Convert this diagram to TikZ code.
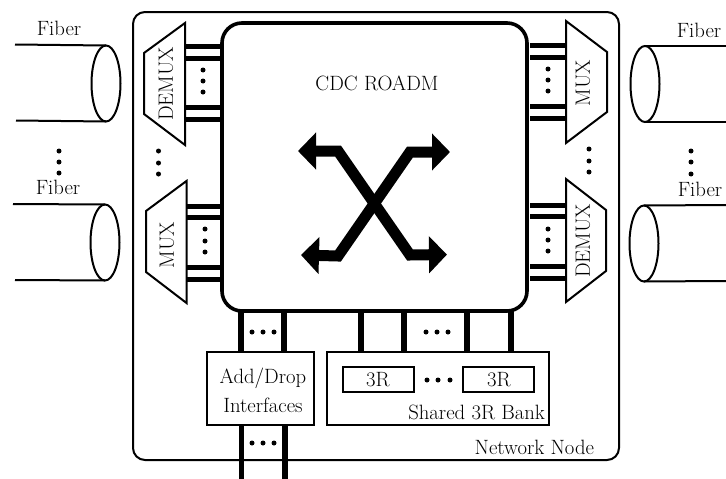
\documentclass[tikz,border=0pt]{standalone}
\usetikzlibrary{shapes.geometric,arrows.meta}
\tikzset{
  txt/.style={inner sep=0pt,outer sep=0pt,font=\fontsize{20.7}{24}\selectfont},
  rtxt/.style={txt,rotate=90},
  outerbox/.style={draw,line width=2pt,rounded corners=12pt,inner sep=0pt,outer sep=0pt},
  corebox/.style={draw,line width=3.6pt,rounded corners=20pt,inner sep=0pt,outer sep=0pt},
  plainbox/.style={draw,line width=2pt,inner sep=0pt,outer sep=0pt},
  fiberend/.style={draw,ellipse,line width=2pt,inner sep=0pt,outer sep=0pt,minimum width=29pt,minimum height=76pt},
  fiberline/.style={line width=2pt},
  muxshape/.style={draw,line width=2pt,line join=miter},
  bar/.style={line width=5pt},
  vbar/.style={line width=5.5pt},
  bigarrow/.style={line width=11pt,line join=miter},
  dotmark/.style={fill=black}
}
\newcommand{\vdotsat}[4]{\foreach \yy in {#2,#3,#4} \fill[dotmark] (#1,\yy) circle (2.5pt);}
\newcommand{\hdotsat}[4]{\foreach \xx in {#2,#3,#4} \fill[dotmark] (\xx,#1) circle (2.5pt);}
\begin{document}
\begin{tikzpicture}[x=1pt,y=-1pt]
\useasboundingbox (0,0) rectangle (726,479);
\node[outerbox,minimum width=486pt,minimum height=448pt] (node) at (376,236) {};
\node[corebox,minimum width=305pt,minimum height=288pt] (core) at (374.5,167) {};
\node[txt] (title) at (377,83) {CDC ROADM};
% fibers
\node[fiberend] (f1) at (106,83.5) {};
\node[fiberend] (f2) at (105,242.5) {};
\node[fiberend] (f3) at (645,84) {};
\node[fiberend] (f4) at (644,243.5) {};
\coordinate (f1a) at (15,44.5); \coordinate (f1b) at (16,120.5);
\coordinate (f2a) at (13,204); \coordinate (f2b) at (15,280);
\coordinate (f3a) at (726,46); \coordinate (f3b) at (726,122);
\coordinate (f4a) at (726,205); \coordinate (f4b) at (726,281);
\draw[fiberline] (f1a) -- (f1.north); \draw[fiberline] (f1b) -- (f1.south);
\draw[fiberline] (f2a) -- (f2.north); \draw[fiberline] (f2b) -- (f2.south);
\draw[fiberline] (f3a) -- (f3.north); \draw[fiberline] (f3b) -- (f3.south);
\draw[fiberline] (f4a) -- (f4.north); \draw[fiberline] (f4b) -- (f4.south);
\node[txt] (fl1) at (59,28) {Fiber};
\node[txt] (fl2) at (58,187) {Fiber};
\node[txt] (fl3) at (699,30) {Fiber};
\node[txt] (fl4) at (700,189) {Fiber};
% trapezoids
\draw[muxshape] (185,23) -- (144,53) -- (144,114) -- (185,145) -- cycle;
\draw[muxshape] (186.5,181) -- (146,211) -- (146,272) -- (186.5,303) -- cycle;
\draw[muxshape] (566,21) -- (607,52) -- (607,112) -- (566,143) -- cycle;
\draw[muxshape] (566,179) -- (606,210) -- (606,271) -- (566,302) -- cycle;
\node[rtxt] (t1) at (166,84) {DEMUX};
\node[rtxt] (t2) at (167,245) {MUX};
\node[rtxt] (t3) at (583,83) {MUX};
\node[rtxt] (t4) at (583,241) {DEMUX};
% horizontal bars
\coordinate (la) at (185,0); \coordinate (lb) at (187,0);
\coordinate (ra) at (530,0); \coordinate (rb) at (566,0);
\foreach \y in {46,58,107,119} \draw[bar] (la |- 0,\y) -- (core.west |- 0,\y);
\foreach \y in {206,217,267,279} \draw[bar] (lb |- 0,\y) -- (core.west |- 0,\y);
\foreach \y in {45,57,106,118,205,216,266,278} \draw[bar] (ra |- 0,\y) -- (rb |- 0,\y);
\vdotsat{203}{70}{81}{92}
\vdotsat{205}{229}{241}{252}
\vdotsat{548}{69}{80}{91}
\vdotsat{548}{229}{240}{251}
\vdotsat{158.5}{151}{163}{174}
\vdotsat{59}{151}{162}{173}
\vdotsat{589}{149}{161}{172}
\vdotsat{691}{151}{162}{174}
% bottom boxes
\node[plainbox,minimum width=107pt,minimum height=73pt] (ad) at (260.5,388.5) {};
\node[txt] (ad1) at (263,378) {Add/Drop};
\node[txt] (ad2) at (263,405) {Interfaces};
\node[plainbox,minimum width=222pt,minimum height=73pt] (bank) at (438,388.5) {};
\node[plainbox,minimum width=71pt,minimum height=25pt] (r1) at (378.5,379.5) {};
\node[plainbox,minimum width=71pt,minimum height=25pt] (r2) at (498.5,379.5) {};
\node[txt] (r1t) at (378,380) {3R};
\node[txt] (r2t) at (499,380) {3R};
\node[txt,anchor=east] (banklbl) at (545,412) {Shared 3R Bank};
\node[txt,anchor=east] (nodelbl) at (594,447) {Network Node};
\coordinate (ex) at (0,479);
\foreach \x in {241,284} \draw[vbar] (\x,0 |- core.south) -- (\x,0 |- ad.north);
\draw[vbar] (241.5,0 |- ad.south) -- (241.5,0 |- ex);
\draw[vbar] (285,0 |- ad.south) -- (285,0 |- ex);
\foreach \x in {361,404,467,511} \draw[vbar] (\x,0 |- core.south) -- (\x,0 |- bank.north);
\hdotsat{332}{252}{263}{274}
\hdotsat{443}{252}{263}{274}
\hdotsat{332}{426}{437}{448}
\hdotsat{380}{427}{438}{450}
% crossing arrows
\coordinate (a1) at (338,151); \coordinate (a2) at (410,255);
\coordinate (b1) at (410,152); \coordinate (b2) at (338,256);
\coordinate (a1t) at (298,151); \coordinate (a2t) at (447,254.5);
\coordinate (b1t) at (450,152); \coordinate (b2t) at (301,255);
\draw[bigarrow,{Triangle[length=18pt,width=36pt]}-{Triangle[length=18pt,width=36pt]}] (a1t) -- (a1) -- (a2) -- (a2t);
\draw[bigarrow,{Triangle[length=18pt,width=36pt]}-{Triangle[length=18pt,width=36pt]}] (b1t) -- (b1) -- (b2) -- (b2t);
\end{tikzpicture}
\end{document}
